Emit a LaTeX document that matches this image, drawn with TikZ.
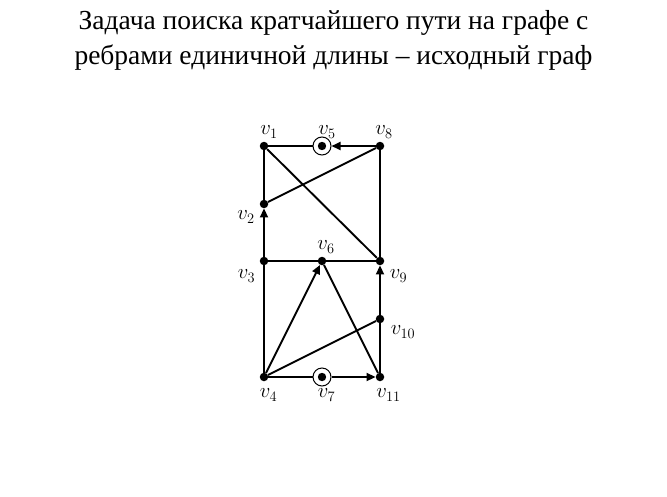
\documentclass[tikz,border=0pt]{standalone}
\usepackage{fontspec}
\setmainfont{Liberation Serif}
\usetikzlibrary{arrows.meta}
\begin{document}
\begin{tikzpicture}[x=1pt,y=-1pt,
  vdot/.style={circle,fill=black,inner sep=0pt,minimum size=8.5pt},
  ring/.style={circle,draw=black,line width=1pt,inner sep=0pt,minimum size=18pt},
  edge/.style={line width=1.9pt},
  arc/.style={line width=1.9pt,-{Triangle[length=9pt,width=8pt]}},
  lab/.style={font=\fontsize{21}{23}\selectfont,inner sep=0pt},
  title/.style={font=\fontsize{27.5}{35}\selectfont,align=center}]
\useasboundingbox (0,0) rectangle (667,496);
\node[title] (t) at (333.5,40) {Задача поиска кратчайшего пути на графе с\\ребрами единичной длины – исходный граф};
\node[vdot] (v1) at (264,146) {};
\node[ring] (v5) at (322,146) {};
\node[vdot] (v8) at (380,146) {};
\node[vdot] (v2) at (264,204) {};
\node[vdot] (v3) at (264,261) {};
\node[vdot] (v6) at (322,261) {};
\node[vdot] (v9) at (380,261) {};
\node[vdot] (v10) at (380,319) {};
\node[vdot] (v4) at (264,377) {};
\node[ring] (v7) at (322,377) {};
\node[vdot] (v11) at (380,377) {};
\fill (v5) circle (4.2pt);
\fill (v7) circle (4.2pt);
\node[lab] (l1) at (269,132) {$v_1$};
\node[lab] (l5) at (327,132) {$v_5$};
\node[lab] (l8) at (384,132) {$v_8$};
\node[lab] (l2) at (246,217) {$v_2$};
\node[lab] (l6) at (326,247) {$v_6$};
\node[lab] (l3) at (246.5,276) {$v_3$};
\node[lab] (l9) at (398.5,276) {$v_9$};
\node[lab] (l10) at (403,332) {$v_{10}$};
\node[lab] (l4) at (268.5,395) {$v_4$};
\node[lab] (l7) at (326.5,395) {$v_7$};
\node[lab] (l11) at (388.5,395) {$v_{11}$};
\draw[edge] (v1) -- (v5);
\draw[arc] (v8) -- (v5);
\draw[edge] (v1) -- (v2);
\draw[arc] (v3) -- (v2);
\draw[edge] (v1) -- (v9);
\draw[edge] (v8) -- (v2);
\draw[edge] (v8) -- (v9);
\draw[edge] (v3) -- (v6);
\draw[edge] (v6) -- (v9);
\draw[edge] (v3) -- (v4);
\draw[arc] (v4) -- (v6);
\draw[edge] (v6) -- (v11);
\draw[edge] (v4) -- (v10);
\draw[arc] (v10) -- (v9);
\draw[edge] (v10) -- (v11);
\draw[edge] (v4) -- (v7);
\draw[arc] (v7) -- (v11);
\end{tikzpicture}
\end{document}
